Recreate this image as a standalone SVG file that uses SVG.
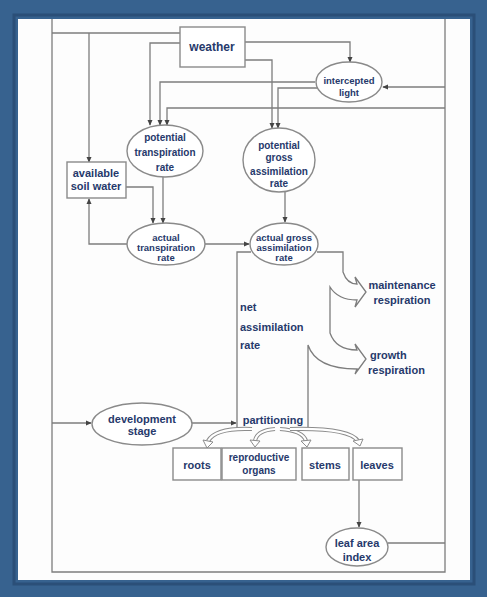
<svg xmlns="http://www.w3.org/2000/svg" width="487" height="597" viewBox="0 0 487 597">
<style>
.ln{fill:none;stroke:#7d7d7d;stroke-width:1.3}
.nd{fill:#fff;stroke:#8a8a8a;stroke-width:1.4}
.t{font-family:"Liberation Sans","DejaVu Sans",sans-serif;font-weight:bold;fill:#26396b;text-anchor:middle}
.s9{font-size:9.5px}
.s10{font-size:10px}
.s11{font-size:11px}
.s12{font-size:12px}
.band{fill:none;stroke:#8c8c8c;stroke-width:4.2}
.bandw{fill:none;stroke:#fff;stroke-width:2.2}
.head{fill:#fff;stroke:#8c8c8c;stroke-width:1}
</style>
<defs>
<marker id="a" viewBox="0 0 8 8" refX="7" refY="4" markerWidth="6" markerHeight="6" orient="auto" markerUnits="userSpaceOnUse">
<path d="M0,0.5 L8,4 L0,7.5 z" fill="#444"/>
</marker>
</defs>
<rect x="0" y="0" width="487" height="597" fill="#37628f"/>
<rect x="14" y="15" width="460" height="569" fill="none" stroke="#2b4f78" stroke-width="3"/>
<rect x="18" y="19" width="452" height="561" fill="#fdfdfd"/>

<g id="connectors">
<path class="ln" d="M52,19 V572 H445 V19"/>
<path class="ln" d="M180,33 H52"/>
<path class="ln" d="M89,33 V162" marker-end="url(#a)"/>
<path class="ln" d="M52,423 H91" marker-end="url(#a)"/>
<path class="ln" d="M245,42 H350 V62" marker-end="url(#a)"/>
<path class="ln" d="M180,43 H150 V125" marker-end="url(#a)"/>
<path class="ln" d="M245,60 H272 V128" marker-end="url(#a)"/>
<path class="ln" d="M315,82 H160 V125" marker-end="url(#a)"/>
<path class="ln" d="M318,88 H278 V128" marker-end="url(#a)"/>
<path class="ln" d="M445,87 H383" marker-end="url(#a)"/>
<path class="ln" d="M445,108 H167 V125" marker-end="url(#a)"/>
<path class="ln" d="M126,187 H153 V223" marker-end="url(#a)"/>
<path class="ln" d="M163,176 V223" marker-end="url(#a)"/>
<path class="ln" d="M127,244 H89 V199" marker-end="url(#a)"/>
<path class="ln" d="M205,244 H249" marker-end="url(#a)"/>
<path class="ln" d="M285,192 V222" marker-end="url(#a)"/>
<path class="ln" d="M192,423 H236" marker-end="url(#a)"/>
<path class="ln" d="M359,480 V527" marker-end="url(#a)"/>
<path class="ln" d="M388,543 H445"/>
<!-- net assimilation flow band -->
<path class="ln" d="M251,252 H237 V428"/>
<path class="ln" d="M317,252 H343 V272 Q347,284 357,284 L355,277 L366,292 L355,307 L357,300 Q338,300 330,287 V333 Q336,350 357,350 L355,344 L366,359 L355,374 L357,369 Q316,369 308,345 V428"/>
<!-- partitioning arrows -->
<path class="band" d="M252,429 C228,428 213,432 208,441"/>
<path class="bandw" d="M252,429 C228,428 213,432 208,441"/>
<path class="head" d="M203,440 L213,442 L207,448 z"/>
<path class="band" d="M275,429 C262,430 256,434 255,441"/>
<path class="bandw" d="M275,429 C262,430 256,434 255,441"/>
<path class="head" d="M250,440 L260,441 L255,447 z"/>
<path class="band" d="M280,429 C295,430 304,434 306,441"/>
<path class="bandw" d="M280,429 C295,430 304,434 306,441"/>
<path class="head" d="M301,441 L311,440 L307,447 z"/>
<path class="band" d="M290,429 C330,428 352,432 358,441"/>
<path class="bandw" d="M290,429 C330,428 352,432 358,441"/>
<path class="head" d="M353,441 L363,439 L360,446 z"/>
</g>

<g id="weather"><rect class="nd" x="180" y="27" width="65" height="40"/><text class="t s12" x="212" y="51">weather</text></g>
<g id="intercepted-light"><ellipse class="nd" cx="349" cy="82" rx="33" ry="20"/><text class="t s9" x="349" y="84">intercepted</text><text class="t s9" x="349" y="96">light</text></g>
<g id="potential-transpiration-rate"><ellipse class="nd" cx="165" cy="151" rx="38" ry="26"/><text class="t s10" x="165" y="141">potential</text><text class="t s10" x="165" y="156">transpiration</text><text class="t s10" x="165" y="171">rate</text></g>
<g id="potential-gross-assimilation-rate"><ellipse class="nd" cx="279" cy="160" rx="36" ry="32"/><text class="t s10" x="279" y="149">potential</text><text class="t s10" x="279" y="161">gross</text><text class="t s10" x="279" y="175">assimilation</text><text class="t s10" x="279" y="187">rate</text></g>
<g id="available-soil-water"><rect class="nd" x="67" y="162" width="59" height="36"/><text class="t s11" x="96" y="177">available</text><text class="t s11" x="96" y="190">soil water</text></g>
<g id="actual-transpiration-rate"><ellipse class="nd" cx="166" cy="244" rx="39" ry="21"/><text class="t s9" x="166" y="241">actual</text><text class="t s9" x="166" y="251">transpiration</text><text class="t s9" x="166" y="261">rate</text></g>
<g id="actual-gross-assimilation-rate"><ellipse class="nd" cx="284" cy="244" rx="34" ry="21"/><text class="t s9" x="284" y="241">actual gross</text><text class="t s9" x="284" y="251">assimilation</text><text class="t s9" x="284" y="261">rate</text></g>
<g id="maintenance-respiration"><text class="t s11" x="402" y="289">maintenance</text><text class="t s11" x="402" y="304">respiration</text></g>
<g id="growth-respiration"><text class="t s11" x="370" y="359" style="text-anchor:start">growth</text><text class="t s11" x="368" y="374" style="text-anchor:start">respiration</text></g>
<g id="net-assimilation-rate"><text class="t s11" x="240" y="311" style="text-anchor:start">net</text><text class="t s11" x="240" y="331" style="text-anchor:start">assimilation</text><text class="t s11" x="240" y="349" style="text-anchor:start">rate</text></g>
<g id="development-stage"><ellipse class="nd" cx="142" cy="424" rx="50" ry="21"/><text class="t s11" x="142" y="423">development</text><text class="t s11" x="142" y="435">stage</text></g>
<g id="partitioning"><text class="t s11" x="273" y="424">partitioning</text></g>
<g id="roots"><rect class="nd" x="173" y="448" width="48" height="32"/><text class="t s11" x="197" y="469">roots</text></g>
<g id="reproductive-organs"><rect class="nd" x="222" y="448" width="74" height="32"/><text class="t s10" x="259" y="461">reproductive</text><text class="t s10" x="259" y="474">organs</text></g>
<g id="stems"><rect class="nd" x="302" y="448" width="47" height="32"/><text class="t s11" x="325" y="469">stems</text></g>
<g id="leaves"><rect class="nd" x="353" y="448" width="49" height="32"/><text class="t s11" x="377" y="469">leaves</text></g>
<g id="leaf-area-index"><ellipse class="nd" cx="357" cy="547" rx="31" ry="19"/><text class="t s11" x="357" y="547">leaf area</text><text class="t s11" x="357" y="561">index</text></g>
</svg>
